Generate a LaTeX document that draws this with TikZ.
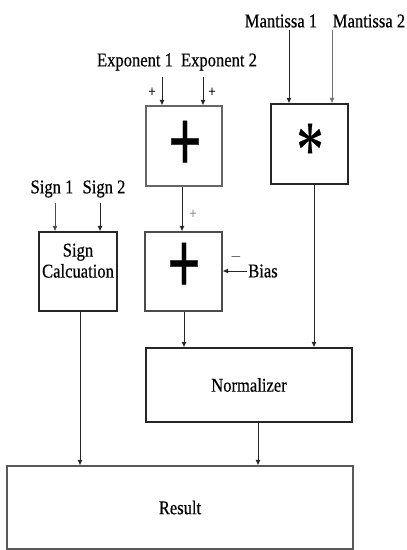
\documentclass[tikz,border=0pt]{standalone}
\usepackage{fontspec}
\setmainfont{Liberation Serif}[FakeStretch=0.85,FakeBold=0.4]
\usetikzlibrary{arrows.meta}
\begin{document}
\begin{tikzpicture}[x=1pt,y=-1pt,
  block/.style={draw=black!85,line width=1.1pt,minimum width=#1,inner sep=0pt},
  arr/.style={-{Latex[length=5.5pt,width=5pt]},line width=1pt,black!85},
  lbl/.style={font=\fontsize{19.5}{21}\selectfont,inner sep=0pt},
  sgn/.style={font=\fontsize{15}{15}\selectfont,inner sep=0pt},
  bigop/.style={font=\fontsize{66}{66}\selectfont\bfseries,inner sep=0pt},
  star/.style={font=\fontsize{64}{64}\selectfont,inner sep=0pt}]
\useasboundingbox (0,0) rectangle (407,550);

% functional blocks
\node[block=76pt,minimum height=80pt,draw=black!60] (addA) at (184,146) {};
\node[block=77pt,minimum height=80pt] (mult) at (309.5,144) {};
\node[block=78pt,minimum height=79pt,
  label={[lbl,align=center,anchor=north,yshift=-12pt]north:Sign\\Calcuation}] (sign) at (78,271.5) {};
\node[block=77pt,minimum height=79pt,draw=black!70] (addB) at (183.5,271.5) {};
\node[block=206pt,minimum height=74pt] (norm) at (249,385) {};
\node[block=346pt,minimum height=83pt,draw=black!65] (res) at (180,507.5) {};

% operator symbols and block captions
\node[bigop] (plusA) at (185,146) {\scalebox{1.05}[1.35]{+}};
\node[bigop] (plusB) at (184,268) {\scalebox{1.05}[1.35]{+}};
\node[star] (mulsym) at (310,150) {\scalebox{1}[1.25]{*}};
\node[lbl] (normtxt) at (norm.center) {Normalizer};
\node[lbl] (restxt) at (res.center) {Result};

% input labels
\node[lbl] (m1) at (281,21) {Mantissa 1};
\node[lbl] (m2) at (369,21) {Mantissa 2};
\node[lbl] (e1) at (135,62) {Exponent 1};
\node[lbl] (e2) at (219,62) {Exponent 2};
\node[lbl] (s1) at (52,189) {Sign 1};
\node[lbl] (s2) at (104,189) {Sign 2};
\node[lbl] (bias) at (263,271) {Bias};

% sign marks at adder inputs
\node[sgn] (pe1) at (152,92) {+};
\node[sgn] (pe2) at (212,92) {+};
\node[sgn,text=black!45] (pa) at (193,214) {+};
\node[sgn] (mb) at (236,257) {$-$};

% x positions of the vertical connectors
\coordinate (xm1) at (289,0);
\coordinate (xm2) at (332,0);
\coordinate (xe1) at (162,0);
\coordinate (xe2) at (203,0);
\coordinate (xs1) at (55,0);
\coordinate (xs2) at (100,0);
\coordinate (xab) at (182,0);
\coordinate (xbn) at (184,0);
\coordinate (xmn) at (314,0);
\coordinate (xsr) at (80,0);
\coordinate (xnr) at (258,0);

% connectors
\draw[arr] (m1.south -| xm1) ++(0,2) -- (xm1 |- mult.north);
\draw[arr,black!55] (m2.south -| xm2) ++(0,2) -- (xm2 |- mult.north);
\draw[arr] (e1.south -| xe1) ++(0,6) -- (xe1 |- addA.north);
\draw[arr] (e2.south -| xe2) ++(0,6) -- (xe2 |- addA.north);
\draw[arr,black!70] (s1.south -| xs1) ++(0,5) -- (xs1 |- sign.north);
\draw[arr] (s2.south -| xs2) ++(0,5) -- (xs2 |- sign.north);
\draw[arr] (addA.south -| xab) -- (xab |- addB.north);
\draw[arr] (bias.west) ++(-1,0) -- (addB.east |- bias.west);
\draw[arr] (addB.south -| xbn) -- (xbn |- norm.north);
\draw[arr] (mult.south -| xmn) -- (xmn |- norm.north);
\draw[arr] (sign.south -| xsr) -- (xsr |- res.north);
\draw[arr] (norm.south -| xnr) -- (xnr |- res.north);
\end{tikzpicture}
\end{document}
